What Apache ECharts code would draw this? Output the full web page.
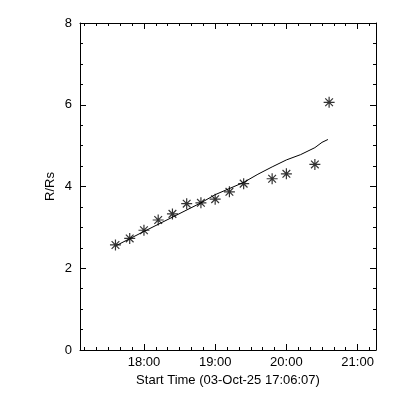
<!DOCTYPE html>
<html>
<head>
<meta charset="utf-8">
<script src="https://cdn.jsdelivr.net/npm/echarts@6/dist/echarts.min.js"></script>
<style>html,body{margin:0;padding:0;background:#fff}#c{width:400px;height:400px}</style>
</head>
<body>
<div id="c"></div>
<script>
// minutes since 17:00 on 03-Oct-25
var obsTimes = [36, 48, 60, 72, 84, 96, 108, 120, 132, 144, 168, 180, 204, 216];
var obsHeights = [2.57, 2.73, 2.93, 3.18, 3.33, 3.58, 3.60, 3.69, 3.87, 4.07, 4.19, 4.31, 4.54, 6.06];
var fitTimes = [37, 60, 84, 108, 120, 144, 156, 168, 180, 192, 204, 210, 215];
var fitHeights = [2.56, 2.90, 3.25, 3.60, 3.80, 4.10, 4.30, 4.48, 4.65, 4.78, 4.95, 5.08, 5.15];
var xMin = 6.117, xMax = 255.5;
var majorStart = 60, majorStep = 60;   // hour ticks (18:00 ...)
var minorStart = 10, minorStep = 10;   // 10-minute ticks
var xTitle = 'Start Time (03-Oct-25 17:06:07)';
var yTitle = 'R/Rs';

function pairs(a, b) { return a.map(function (v, i) { return [v, b[i]]; }); }
function fmtTime(v) {
  var m = Math.round(v);
  if (Math.abs(v - m) > 1e-6 || m % 60 !== 0) return '';
  return (17 + m / 60) + ':00';
}
var font = 'Liberation Sans';
var L = 80, R = 24, T = 23, B = 50, W = 400 - L - R;
var pxPerMin = W / (xMax - xMin);
function gridFrom(start) { return {left: L + (start - xMin) * pxPerMin, right: R, top: T, bottom: B}; }

var chart = echarts.init(document.getElementById('c'), null, {renderer: 'canvas'});
var axisLine = {show: true, onZero: false, lineStyle: {color: '#000', width: 1}};
function xAx(grid, pos, min, interval, showLabel, len, showLine, name) {
  return {
    type: 'value', gridIndex: grid, position: pos, min: min, max: xMax, interval: interval,
    axisLine: Object.assign({}, axisLine, {show: showLine}),
    axisTick: {show: len > 0, inside: true, length: len, lineStyle: {color: '#000'}},
    axisLabel: {show: showLabel, formatter: fmtTime, color: '#000', fontFamily: font, fontSize: 13, margin: 6, hideOverlap: false},
    splitLine: {show: false},
    name: name || '', nameLocation: 'middle', nameGap: 24,
    nameTextStyle: {color: '#000', fontFamily: font, fontSize: 13}
  };
}
function yAx(grid, pos, show, showLabel, name) {
  return {
    type: 'value', gridIndex: grid, position: pos, min: 0, max: 8, interval: 2, show: show,
    axisLine: axisLine,
    axisTick: {show: true, inside: true, length: 6, lineStyle: {color: '#000'}},
    minorTick: {show: true, splitNumber: 4, length: 3, lineStyle: {color: '#000'}},
    axisLabel: {show: showLabel, color: '#000', fontFamily: font, fontSize: 13, margin: 8},
    splitLine: {show: false},
    name: name || '', nameLocation: 'middle', nameGap: 23, nameMoveOverlap: false,
    nameTextStyle: {color: '#000', fontFamily: font, fontSize: 13}
  };
}
chart.setOption({
  animation: false,
  backgroundColor: '#fff',
  grid: [
    {left: L, right: R, top: T, bottom: B},
    gridFrom(majorStart),
    gridFrom(minorStart)
  ],
  xAxis: [
    xAx(0, 'bottom', xMin, null, false, 0, true, xTitle),
    xAx(0, 'top', xMin, null, false, 0, true),
    xAx(1, 'bottom', majorStart, majorStep, true, 6, false),
    xAx(1, 'top', majorStart, majorStep, false, 6, false),
    xAx(2, 'bottom', minorStart, minorStep, false, 3, false),
    xAx(2, 'top', minorStart, minorStep, false, 3, false)
  ],
  yAxis: [
    yAx(0, 'left', true, true, yTitle), yAx(0, 'right', true, false),
    yAx(1, 'left', false, false), yAx(2, 'left', false, false)
  ],
  series: [
    {
      type: 'line', xAxisIndex: 0, yAxisIndex: 0,
      data: pairs(fitTimes, fitHeights), showSymbol: false, symbol: 'none',
      lineStyle: {color: '#000', width: 1}
    },
    {
      type: 'scatter', xAxisIndex: 0, yAxisIndex: 0,
      data: pairs(obsTimes, obsHeights),
      symbol: 'path://M5,0L5,10M0,5L10,5M1.5,1.5L8.5,8.5M8.5,1.5L1.5,8.5',
      symbolSize: 11,
      itemStyle: {color: 'rgba(0,0,0,0)', borderColor: '#000', borderWidth: 1.2}
    }
  ]
});
</script>
</body>
</html>
